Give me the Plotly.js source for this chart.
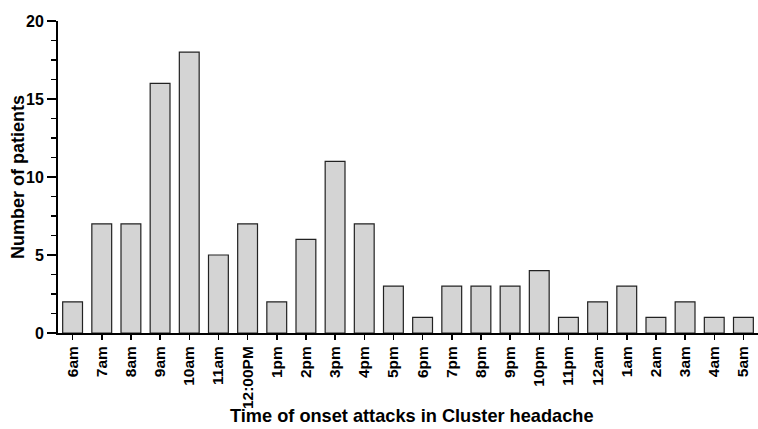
<!DOCTYPE html>
<html><head><meta charset="utf-8">
<script src="https://cdn.plot.ly/plotly-3.0.1.min.js"></script>
<style>html,body{margin:0;padding:0;background:#fff}#chart{width:758px;height:429px}</style>
</head><body><div id="chart"></div>
<script>
const categories = ["6am","7am","8am","9am","10am","11am","12:00PM","1pm","2pm","3pm","4pm","5pm","6pm","7pm","8pm","9pm","10pm","11pm","12am","1am","2am","3am","4am","5am"];
const patients = [2,7,7,16,18,5,7,2,6,11,7,3,1,3,3,3,4,1,2,3,1,2,1,1];
const xTitle = "Time of onset attacks in Cluster headache";
const yTitle = "Number of patients";

const F = "Liberation Sans, Arial, Helvetica, sans-serif";
const W = 758, H = 429, M = {l: 58, r: 0, t: 21, b: 96};
const pw = W - M.l - M.r, ph = H - M.t - M.b;
Plotly.newPlot('chart', [{
  type: 'bar', x: categories, y: patients,
  marker: {color: '#d4d4d4', line: {color: '#222', width: 1.2}},
  hoverinfo: 'skip'
}], {
  width: W, height: H,
  margin: M,
  paper_bgcolor: '#fff', plot_bgcolor: '#fff',
  bargap: 0.32,
  showlegend: false,
  xaxis: {
    type: 'category', range: [-0.5, 23.5],
    showline: true, linecolor: '#000', linewidth: 2,
    ticks: 'outside', ticklen: 5, tickwidth: 1.5, tickcolor: '#000',
    tickangle: -90, showgrid: false, zeroline: false,
    tickfont: {family: F, size: 15.5, color: '#000', weight: 'bold'}
  },
  yaxis: {
    range: [0, 20], tickvals: [0,5,10,15,20],
    showline: true, linecolor: '#000', linewidth: 2,
    ticks: 'outside', ticklen: 9, tickwidth: 1.5, tickcolor: '#000',
    minor: {dtick: 1.25, ticks: 'outside', ticklen: 5, tickwidth: 1.5, tickcolor: '#000', showgrid: false},
    showgrid: false, zeroline: false,
    tickfont: {family: F, size: 16, color: '#000', weight: 'bold'}
  },
  annotations: [
    {text: xTitle, xref: 'paper', yref: 'paper', x: (412 - M.l) / pw, y: (M.t + ph - 416) / ph,
     xanchor: 'center', yanchor: 'middle', showarrow: false,
     font: {family: F, size: 18.2, color: '#000', weight: 'bold'}},
    {text: yTitle, xref: 'paper', yref: 'paper', x: (18 - M.l) / pw, y: 0.5, textangle: -90,
     xanchor: 'center', yanchor: 'middle', showarrow: false,
     font: {family: F, size: 18, color: '#000', weight: 'bold'}}
  ]
}, {staticPlot: true});
</script></body></html>
